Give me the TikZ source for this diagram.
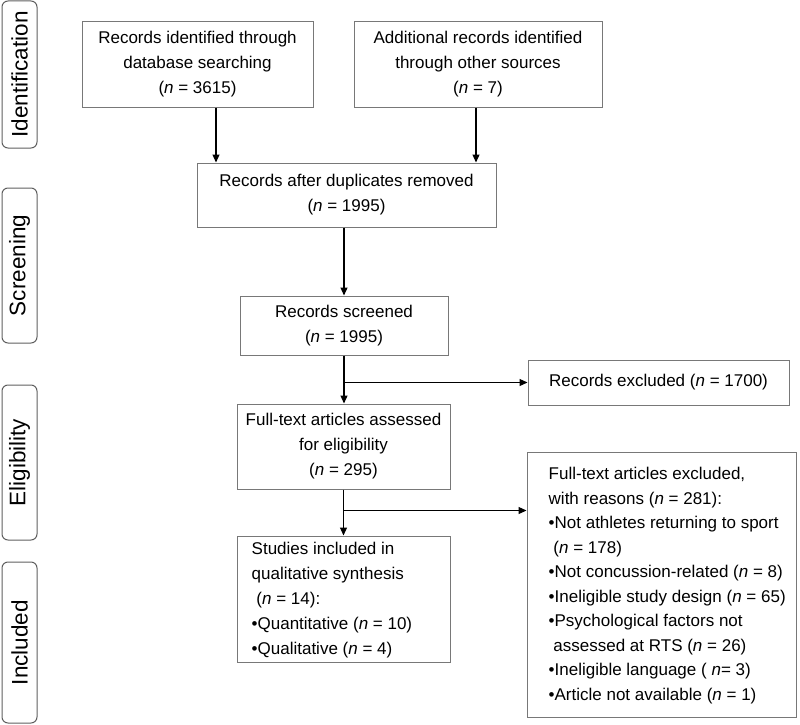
\documentclass[tikz,border=0pt]{standalone}
\usepackage{fontspec}
\setmainfont{Liberation Sans}
\usetikzlibrary{arrows.meta,calc}
\definecolor{boxgray}{RGB}{120,120,120}
\definecolor{sidegray}{RGB}{95,95,95}
\begin{document}
\begin{tikzpicture}[x=1pt,y=-1pt,
  box/.style={draw=boxgray, line width=1pt, inner sep=0pt, align=center,
    font=\fontsize{17}{25}\selectfont},
  txt/.style={inner sep=0pt, align=left, anchor=west,
    font=\fontsize{17}{25}\selectfont},
  side/.style={draw=sidegray, line width=1pt, rounded corners=6pt, rotate=90,
    inner sep=0pt, minimum height=35pt, font=\fontsize{22.5}{27}\selectfont},
  arr/.style={draw=black, line width=1.2pt, -{Triangle[length=8pt,width=7pt]}}]
\useasboundingbox (0,0) rectangle (800,725);

% side labels
\node[side, minimum width=147pt] (s1) at (19.5,74.5) {Identification};
\node[side, minimum width=155pt] (s2) at (19.5,265.5) {Screening};
\node[side, minimum width=155pt] (s3) at (19.5,462.5) {Eligibility};
\node[side, minimum width=161pt] (s4) at (19.5,642.5) {Included};

% main boxes
\node[box, minimum width=231pt, minimum height=85pt] (b1) at (197.5,64.5)
  {Records identified through\\database searching\\(\textit{n} = 3615)};
\node[box, minimum width=248pt, minimum height=85pt] (b2) at (478,64.5)
  {Additional records identified\\through other sources\\(\textit{n} = 7)};
\node[box, minimum width=299pt, minimum height=64pt] (b3) at (346.5,195)
  {Records after duplicates removed\\(\textit{n} = 1995)};
\node[box, minimum width=208pt, minimum height=59pt] (b4) at (344,325.5)
  {Records screened\\(\textit{n} = 1995)};
\node[box, minimum width=261pt, minimum height=45pt] (ex1) at (658.5,382.5)
  {Records excluded (\textit{n} = 1700)};
\node[box, minimum width=213pt, minimum height=85pt] (b5) at (343.5,446.5)
  {Full-text articles assessed\\for eligibility\\(\textit{n} = 295)};
\node[box, minimum width=213pt, minimum height=126pt] (b7) at (343.5,599) {};
\node[txt] (b7t) at ([xshift=15pt,yshift=-1pt]b7.west)
  {Studies included in\\
   qualitative synthesis\\
   \hspace*{0.28em}(\textit{n} = 14):\\
   •Quantitative (\textit{n} = 10)\\
   •Qualitative (\textit{n} = 4)};
\node[box, minimum width=269pt, minimum height=265pt] (ex2) at (661.5,584.5) {};
\node[txt, font=\fontsize{17}{24.5}\selectfont] (ex2t) at ([xshift=22pt,yshift=-1pt]ex2.west)
  {Full-text articles excluded,\\
   with reasons (\textit{n} = 281):\\
   •Not athletes returning to sport\\
   \hspace*{0.28em}(\textit{n} = 178)\\
   •Not concussion-related (\textit{n} = 8)\\
   •Ineligible study design (\textit{n} = 65)\\
   •Psychological factors not\\
   \hspace*{0.28em}assessed at RTS (\textit{n} = 26)\\
   •Ineligible language ( \textit{n}= 3)\\
   •Article not available (\textit{n} = 1)};

% connectors
\draw[arr] ([xshift=18.5pt]b1.south) -- ([xshift=18.5pt]b1.south |- b3.north);
\draw[arr] ([xshift=-2pt]b2.south) -- ([xshift=-2pt]b2.south |- b3.north);
\draw[arr] (b3.south -| b4.north) -- (b4.north);
\draw[arr] (b4.south) -- (b4.south |- b5.north);
\coordinate (j1) at (b4.south |- ex1.west);
\draw[arr] (j1) -- (ex1.west);
\draw[arr] (b5.south) -- (b5.south |- b7.north);
\coordinate (j2) at ($(b5.south)+(0,21)$);
\draw[arr] (j2) -- (j2 -| ex2.west);
\end{tikzpicture}
\end{document}
